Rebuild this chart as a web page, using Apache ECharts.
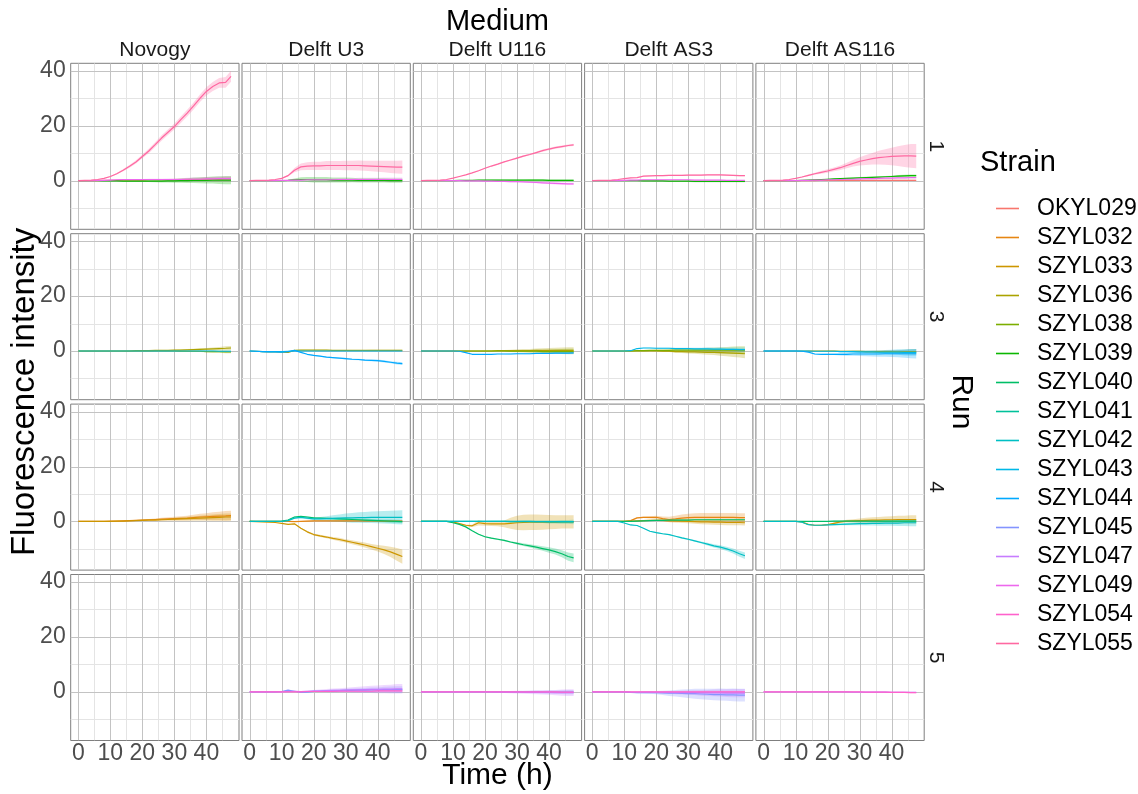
<!DOCTYPE html>
<html><head><meta charset="utf-8">
<script src="https://cdn.jsdelivr.net/npm/echarts@6/dist/echarts.min.js"></script>
<style>html,body{margin:0;padding:0;background:#fff}#c{width:1138px;height:794px}</style>
</head><body><div id="c"></div>
<script>
// ---------------- data ----------------
const TIME = [0,2,4,6,8,10,12,14,16,18,20,22,24,26,28,30,32,34,36,38,40,42,44,46,47.7];
const MEDIA = ['Novogy','Delft U3','Delft U116','Delft AS3','Delft AS116'];
const RUNS = ['1','3','4','5'];
const STRAINS = ['OKYL029','SZYL032','SZYL033','SZYL036','SZYL038','SZYL039','SZYL040','SZYL041','SZYL042','SZYL043','SZYL044','SZYL045','SZYL047','SZYL049','SZYL054','SZYL055'];
const STRAIN_COLORS = ['#F8766D','#E68613','#CD9600','#ABA300','#7CAE00','#0CB702','#00BE67','#00C19A','#00BFC4','#00B8E7','#00A9FF','#8494FF','#C77CFF','#ED68ED','#FF61CC','#FF68A1'];
const X_TICKS = [0,10,20,30,40];
const X_MINOR = [5,15,25,35,45];
const Y_TICKS = [0,20,40];
const Y_MINOR = [-10,10,30];
const X_LIMITS = [-2.39, 50.19];
const Y_LIMITS = [-17.75, 42.75];

// Run 1
const r1a_055 = [0,0.1,0.2,0.4,0.8,1.5,2.5,3.8,5.2,6.8,8.8,10.8,13.1,15.5,17.6,19.7,22.2,24.6,27.2,30.0,32.5,34.3,35.6,35.8,38.0];
const r1a_055_sd = [0,0,0,0.1,0.1,0.2,0.3,0.4,0.5,0.6,0.7,0.8,0.9,1.0,1.0,1.1,1.2,1.2,1.3,1.4,1.5,1.6,1.8,2.0,2.0];
const r1a_039 = [0,0,0,0,-0.1,-0.1,-0.1,-0.2,-0.2,-0.2,-0.2,-0.2,-0.2,-0.2,-0.1,-0.1,0,0,0.1,0.1,0.1,0.2,0.2,0.2,0.2];
const r1a_039_sd = [0,0,0,0,0,0.1,0.1,0.1,0.2,0.2,0.3,0.3,0.4,0.5,0.6,0.7,0.8,0.9,1.0,1.1,1.2,1.3,1.4,1.5,1.5];
const r1a_049 = [0,0,0,0.1,0.1,0.2,0.3,0.4,0.4,0.4,0.4,0.4,0.4,0.4,0.4,0.4,0.4,0.5,0.5,0.5,0.6,0.6,0.7,0.7,0.7];
const r1a_049_sd = [0,0,0,0,0,0.1,0.1,0.1,0.2,0.2,0.2,0.3,0.3,0.3,0.4,0.4,0.5,0.5,0.6,0.6,0.7,0.7,0.8,0.8,0.8];
const r1a_029 = [0,0,0,0,0.1,0.1,0.1,0.2,0.2,0.2,0.2,0.3,0.3,0.3,0.3,0.3,0.4,0.4,0.4,0.4,0.5,0.5,0.5,0.6,0.6];
const r1a_029_sd = [0,0,0,0,0,0.1,0.1,0.1,0.1,0.2,0.2,0.2,0.3,0.3,0.3,0.4,0.4,0.5,0.5,0.6,0.6,0.7,0.7,0.8,0.8];

const r1b_055 = [0,0.05,0.1,0.2,0.4,0.8,1.8,3.8,5.0,5.3,5.4,5.4,5.5,5.5,5.5,5.5,5.5,5.5,5.4,5.3,5.2,5.1,5.0,4.9,4.9];
const r1b_055_sd = [0,0,0,0,0,0.1,0.3,0.8,1.2,1.4,1.5,1.5,1.6,1.6,1.6,1.7,1.7,1.8,1.8,1.9,2.0,2.1,2.2,2.3,2.4];
const r1b_039 = [0,0,0,0,0,0,0.1,0.3,0.4,0.4,0.3,0.3,0.3,0.2,0.2,0.2,0.2,0.1,0.1,0.1,0.1,0.1,0,0,0];
const r1b_039_sd = [0,0,0,0,0,0,0.2,0.5,0.8,0.9,1.0,1.0,1.0,0.9,0.9,0.9,0.8,0.8,0.8,0.8,0.8,0.8,0.8,0.8,0.8];
const r1b_049 = [0,0,0,0,0,0.1,0.1,0.2,0.2,0.3,0.3,0.3,0.3,0.3,0.4,0.4,0.4,0.4,0.4,0.4,0.4,0.4,0.4,0.4,0.4];
const r1b_049_sd = [0,0,0,0,0,0,0.1,0.2,0.3,0.3,0.4,0.4,0.4,0.5,0.5,0.5,0.5,0.6,0.6,0.6,0.6,0.7,0.7,0.7,0.7];

const r1c_055 = [0,0.05,0.1,0.2,0.4,0.9,1.5,2.1,2.8,3.6,4.5,5.3,6.0,6.8,7.5,8.2,8.9,9.5,10.2,10.9,11.5,12.0,12.4,12.8,13.0];
const r1c_055_sd = [0,0,0,0,0,0.1,0.1,0.1,0.1,0.2,0.2,0.2,0.2,0.2,0.3,0.3,0.3,0.3,0.3,0.4,0.4,0.4,0.4,0.4,0.4];
const r1c_039 = [0,0,0,0,0,0,0.1,0.1,0.1,0.2,0.2,0.2,0.2,0.2,0.2,0.2,0.2,0.2,0.2,0.2,0.1,0.1,0.1,0.1,0.1];
const r1c_039_sd = [0,0,0,0,0,0,0.1,0.1,0.1,0.1,0.1,0.2,0.2,0.2,0.2,0.2,0.2,0.3,0.3,0.3,0.3,0.3,0.3,0.3,0.3];
const r1c_049 = [0,0,0,0,0,0,0,-0.1,-0.1,-0.1,-0.2,-0.2,-0.3,-0.3,-0.4,-0.4,-0.5,-0.6,-0.7,-0.8,-0.9,-1.0,-1.1,-1.2,-1.2];
const r1c_049_sd = [0,0,0,0,0,0,0,0.1,0.1,0.1,0.1,0.1,0.2,0.2,0.2,0.2,0.2,0.3,0.3,0.3,0.3,0.4,0.4,0.4,0.4];

const r1d_055 = [0,0.05,0.1,0.2,0.4,0.7,1.0,1.1,1.6,1.7,1.8,1.8,1.9,1.9,1.9,2.0,2.0,2.0,2.1,2.1,2.1,2.0,1.9,1.8,1.8];
const r1d_055_sd = [0,0,0,0,0,0.1,0.1,0.1,0.2,0.2,0.2,0.2,0.2,0.2,0.2,0.2,0.2,0.2,0.2,0.2,0.2,0.2,0.2,0.2,0.2];
const r1d_039 = [0,0,0,0,0,0,0,0,-0.1,-0.1,-0.1,-0.1,-0.2,-0.2,-0.2,-0.2,-0.3,-0.3,-0.3,-0.3,-0.3,-0.3,-0.3,-0.3,-0.3];
const r1d_039_sd = [0,0,0,0,0,0,0.1,0.1,0.1,0.1,0.2,0.2,0.2,0.2,0.2,0.3,0.3,0.3,0.3,0.3,0.3,0.3,0.3,0.3,0.3];
const r1d_049 = [0,0,0,0,0,0.1,0.2,0.2,0.3,0.3,0.3,0.3,0.3,0.3,0.3,0.3,0.2,0.2,0.2,0.2,0.2,0.1,0.1,0.1,0.1];
const r1d_049_sd = [0,0,0,0,0,0,0.1,0.1,0.1,0.1,0.1,0.1,0.1,0.1,0.1,0.1,0.1,0.1,0.1,0.1,0.1,0.1,0.1,0.1,0.1];

const r1e_055 = [0,0.05,0.1,0.2,0.4,0.8,1.3,1.9,2.5,3.0,3.5,4.1,4.7,5.5,6.3,7.0,7.5,8.0,8.4,8.6,8.8,8.9,9.0,9.0,8.9];
const r1e_055_sd = [0,0,0,0,0.1,0.1,0.2,0.3,0.4,0.5,0.6,0.7,0.8,1.0,1.2,1.5,1.8,2.1,2.5,2.8,3.2,3.6,4.0,4.3,4.4];
const r1e_039 = [0,0,0,0,0,0,0.1,0.2,0.3,0.4,0.5,0.6,0.7,0.8,0.9,1.0,1.1,1.2,1.3,1.4,1.5,1.6,1.7,1.8,1.8];
const r1e_039_sd = [0,0,0,0,0,0,0.1,0.1,0.1,0.1,0.2,0.2,0.2,0.2,0.2,0.3,0.3,0.3,0.3,0.3,0.3,0.4,0.4,0.4,0.4];
const r1e_049 = [0,0,0,0,0,0,0.1,0.1,0.2,0.2,0.3,0.3,0.4,0.5,0.5,0.6,0.7,0.7,0.8,0.9,0.9,1.0,1.0,1.1,1.1];
const r1e_049_sd = [0,0,0,0,0,0,0.1,0.1,0.1,0.1,0.1,0.2,0.2,0.2,0.2,0.2,0.2,0.2,0.2,0.2,0.2,0.2,0.2,0.2,0.2];
const r1e_029 = [0,0,0,0,0,0,0,0,0,0.1,0.1,0.1,0.1,0.1,0.1,0.1,0.1,0.1,0.1,0.1,0.1,0.1,0.1,0.1,0.1];
const r1e_029_sd = [0,0,0,0,0,0,0,0.1,0.1,0.1,0.1,0.1,0.1,0.2,0.2,0.2,0.2,0.2,0.2,0.2,0.2,0.2,0.2,0.2,0.2];

// Run 3
const r3a_036 = [0,0,0,0,0,0,0,0,0,0.1,0.1,0.1,0.2,0.2,0.2,0.3,0.3,0.4,0.5,0.6,0.7,0.8,0.9,1.0,1.1];
const r3a_036_sd = [0,0,0,0,0,0,0,0.1,0.1,0.1,0.1,0.1,0.2,0.2,0.2,0.2,0.3,0.3,0.3,0.4,0.4,0.5,0.6,0.7,0.7];
const r3a_043 = [0,0,0,0,0,0,0,0,0,0,0,0,0,0,0,0,0,0,0,0,0,0,-0.1,-0.1,-0.1];
const r3a_043_sd = [0,0,0,0,0,0,0,0,0,0,0.1,0.1,0.1,0.1,0.1,0.1,0.1,0.1,0.1,0.2,0.2,0.2,0.2,0.2,0.2];
const r3a_038 = [0,0,0,0,0,0,0,0,0,0,0,0,0,0,0,0,-0.1,-0.1,-0.1,-0.1,-0.2,-0.2,-0.2,-0.3,-0.3];
const r3a_038_sd = [0,0,0,0,0,0,0,0,0.1,0.1,0.1,0.1,0.1,0.1,0.2,0.2,0.2,0.2,0.3,0.3,0.3,0.4,0.4,0.5,0.5];

const r3b_044 = [0,-0.1,-0.2,-0.3,-0.3,-0.4,-0.2,0.2,-0.5,-1.2,-1.6,-1.9,-2.2,-2.4,-2.6,-2.8,-3.0,-3.1,-3.3,-3.4,-3.5,-3.8,-4.1,-4.4,-4.6];
const r3b_044_sd = [0,0,0,0,0,0,0.1,0.1,0.1,0.1,0.2,0.2,0.2,0.2,0.2,0.3,0.3,0.3,0.3,0.3,0.4,0.4,0.4,0.5,0.5];
const r3b_036 = [0,-0.1,-0.2,-0.3,-0.3,-0.4,-0.5,0.2,0.3,0.3,0.3,0.3,0.3,0.2,0.2,0.2,0.2,0.2,0.2,0.2,0.2,0.2,0.2,0.2,0.2];
const r3b_036_sd = [0,0,0,0,0,0.1,0.1,0.2,0.2,0.2,0.2,0.2,0.2,0.2,0.2,0.2,0.2,0.2,0.2,0.3,0.3,0.3,0.3,0.3,0.3];
const r3b_043 = [0,-0.1,-0.2,-0.2,-0.2,-0.2,-0.1,0,0,0,0,0,0,0,0,0,0,0,0,0,0,0,0,0,0];
const r3b_043_sd = [0,0,0,0,0,0,0.1,0.1,0.1,0.1,0.1,0.1,0.1,0.1,0.1,0.1,0.1,0.1,0.1,0.1,0.1,0.1,0.1,0.1,0.1];

const r3c_044 = [0,0,0,0,0,0,-0.1,-0.6,-1.2,-1.2,-1.2,-1.2,-1.1,-1.1,-1.1,-1.0,-1.0,-1.0,-0.9,-0.9,-0.9,-0.8,-0.8,-0.8,-0.7];
const r3c_044_sd = [0,0,0,0,0,0,0.1,0.1,0.1,0.1,0.1,0.1,0.1,0.1,0.2,0.2,0.2,0.2,0.2,0.2,0.2,0.3,0.3,0.3,0.3];
const r3c_036 = [0,0,0,0,0,0,0,0,0,0,0,0,0.1,0.1,0.1,0.1,0.1,0.1,0.2,0.2,0.2,0.2,0.2,0.2,0.2];
const r3c_036_sd = [0,0,0,0,0,0,0,0.1,0.1,0.1,0.2,0.2,0.3,0.3,0.4,0.5,0.6,0.6,0.7,0.8,0.9,1.0,1.1,1.2,1.2];
const r3c_038 = [0,0,0,0,0,0,0,0,0,0,0,0,0,0,-0.1,-0.1,-0.1,-0.1,-0.1,-0.2,-0.2,-0.2,-0.2,-0.2,-0.2];
const r3c_038_sd = [0,0,0,0,0,0,0,0.1,0.1,0.1,0.1,0.2,0.2,0.3,0.3,0.4,0.4,0.5,0.6,0.6,0.7,0.8,0.9,1.0,1.0];

const r3d_043 = [0,0,0,0,0,0,0.1,0.9,1.1,1.1,1.0,1.0,1.0,0.9,0.9,0.9,0.8,0.8,0.8,0.7,0.7,0.6,0.6,0.5,0.5];
const r3d_043_sd = [0,0,0,0,0,0,0.1,0.1,0.1,0.1,0.2,0.2,0.2,0.3,0.3,0.3,0.4,0.4,0.5,0.5,0.6,0.6,0.7,0.8,0.8];
const r3d_036 = [0,0,0,0,0,0,0,0,0,0,0,-0.1,-0.1,-0.2,-0.2,-0.3,-0.3,-0.4,-0.5,-0.5,-0.6,-0.7,-0.8,-0.9,-1.0];
const r3d_036_sd = [0,0,0,0,0,0,0.1,0.1,0.1,0.2,0.2,0.3,0.3,0.4,0.5,0.6,0.7,0.8,0.9,1.0,1.1,1.2,1.4,1.5,1.6];
const r3d_038 = [0,0,0,0,0,0,0,0.1,0.1,0.2,0.2,0.2,0.2,0.3,0.3,0.3,0.3,0.3,0.3,0.3,0.3,0.3,0.3,0.3,0.3];
const r3d_038_sd = [0,0,0,0,0,0,0.1,0.1,0.2,0.2,0.3,0.3,0.4,0.4,0.5,0.6,0.7,0.8,0.9,1.0,1.1,1.2,1.3,1.4,1.4];

const r3e_044 = [0,0,0,0,0,0,-0.1,-0.4,-1.1,-1.2,-1.2,-1.2,-1.2,-1.2,-1.1,-1.1,-1.1,-1.1,-1.1,-1.0,-1.0,-1.0,-1.0,-1.0,-1.0];
const r3e_044_sd = [0,0,0,0,0,0,0.1,0.1,0.2,0.2,0.3,0.3,0.4,0.5,0.6,0.7,0.8,0.9,1.0,1.1,1.2,1.3,1.5,1.6,1.7];
const r3e_036 = [0,0,0,0,0,0,0,0,0,0,0,0,-0.1,-0.1,-0.1,-0.1,-0.2,-0.2,-0.2,-0.2,-0.2,-0.3,-0.3,-0.3,-0.3];
const r3e_036_sd = [0,0,0,0,0,0,0,0.1,0.1,0.1,0.1,0.2,0.2,0.2,0.3,0.3,0.4,0.4,0.5,0.6,0.6,0.7,0.8,0.9,1.0];
const r3e_043 = [0,0,0,0,0,0,0,0,-0.1,-0.1,-0.1,-0.1,-0.2,-0.2,-0.2,-0.3,-0.3,-0.3,-0.4,-0.4,-0.4,-0.4,-0.5,-0.5,-0.5];
const r3e_043_sd = [0,0,0,0,0,0,0,0.1,0.1,0.1,0.2,0.2,0.3,0.3,0.4,0.5,0.5,0.6,0.7,0.8,0.9,1.0,1.1,1.2,1.2];

// Run 4
const r4a_032 = [0,0,0,0,0,0.1,0.1,0.2,0.3,0.4,0.5,0.6,0.7,0.8,0.9,1.0,1.1,1.2,1.4,1.6,1.7,1.8,1.9,2.0,2.1];
const r4a_032_sd = [0,0,0,0,0,0,0.1,0.1,0.1,0.2,0.3,0.3,0.4,0.5,0.6,0.7,0.8,0.9,1.0,1.2,1.3,1.5,1.6,1.8,1.8];
const r4a_033 = [0,0,0,0,0,0,0.1,0.1,0.2,0.3,0.4,0.5,0.5,0.6,0.7,0.8,0.9,1.0,1.1,1.2,1.3,1.4,1.5,1.6,1.6];
const r4a_033_sd = [0,0,0,0,0,0,0,0.1,0.1,0.1,0.2,0.2,0.3,0.3,0.4,0.5,0.6,0.7,0.8,0.9,1.0,1.1,1.2,1.3,1.3];

const r4b_033 = [0,-0.1,-0.2,-0.3,-0.4,-0.7,-1.1,-0.9,-2.5,-3.8,-4.8,-5.3,-5.7,-6.2,-6.6,-7.1,-7.6,-8.1,-8.6,-9.2,-9.8,-10.4,-11.1,-12.0,-12.8];
const r4b_033_sd = [0,0,0,0,0,0,0.1,0.1,0.2,0.3,0.3,0.4,0.4,0.5,0.6,0.6,0.7,0.8,0.9,1.0,1.2,1.5,1.9,2.3,2.6];
const r4b_042 = [0,0,0,0,0,0,0.3,1.2,1.5,1.2,0.9,0.9,1.0,1.1,1.2,1.3,1.3,1.4,1.4,1.5,1.5,1.5,1.5,1.5,1.5];
const r4b_042_sd = [0,0,0,0,0,0,0.1,0.2,0.3,0.4,0.5,0.7,0.9,1.1,1.3,1.6,1.8,1.9,2.0,2.1,2.2,2.3,2.4,2.5,2.6];
const r4b_040 = [0,0,0,0,0,0.1,0.5,1.6,1.8,1.6,1.3,1.2,1.1,1.0,0.9,0.8,0.7,0.6,0.5,0.4,0.3,0.2,0.1,0,-0.1];
const r4b_040_sd = [0,0,0,0,0,0,0.1,0.2,0.2,0.2,0.3,0.3,0.3,0.3,0.4,0.4,0.4,0.4,0.5,0.5,0.5,0.5,0.6,0.6,0.6];
const r4b_032 = [0,0,0,0,0,0,0,-0.1,0,0.1,0.2,0.2,0.2,0.2,0.2,0.2,0.2,0.2,0.2,0.2,0.2,0.1,0.1,0.1,0.1];
const r4b_032_sd = [0,0,0,0,0,0,0.1,0.1,0.1,0.2,0.2,0.2,0.2,0.2,0.3,0.3,0.3,0.3,0.3,0.3,0.3,0.3,0.3,0.3,0.3];

const r4c_040 = [0,0,0,0,0,-0.5,-1.1,-2.0,-3.4,-4.7,-5.6,-6.1,-6.5,-6.9,-7.5,-8.0,-8.5,-8.9,-9.4,-9.9,-10.4,-11.0,-11.8,-12.8,-13.3];
const r4c_040_sd = [0,0,0,0,0,0,0.1,0.1,0.1,0.2,0.2,0.2,0.3,0.3,0.3,0.4,0.5,0.6,0.7,0.8,1.0,1.1,1.3,1.5,1.6];
const r4c_033 = [0,0,0,0,0,-0.2,-0.8,-1.4,-1.6,-0.5,-0.8,-0.9,-0.9,-0.9,-0.7,-0.5,-0.4,-0.3,-0.3,-0.3,-0.3,-0.3,-0.2,-0.2,-0.2];
const r4c_033_sd = [0,0,0,0,0,0.1,0.2,0.3,0.4,1.0,0.8,0.8,0.9,1.2,2.0,2.6,2.8,2.8,2.8,2.7,2.6,2.5,2.4,2.4,2.4];
const r4c_042 = [0,0,0,0,0,0,0,0,0,0,0,0,0,0,0,0,0,0,-0.1,-0.1,-0.1,-0.1,-0.1,-0.1,-0.1];
const r4c_042_sd = [0,0,0,0,0,0,0,0.1,0.1,0.1,0.1,0.1,0.1,0.1,0.1,0.1,0.2,0.2,0.2,0.2,0.2,0.2,0.2,0.2,0.2];
const r4c_041 = [0,0,0,0,0,0,0,0,0,0,0,0,0,0,-0.1,-0.1,-0.1,-0.1,-0.1,-0.1,-0.2,-0.2,-0.2,-0.2,-0.2];
const r4c_041_sd = [0,0,0,0,0,0,0,0.1,0.1,0.1,0.1,0.2,0.2,0.2,0.3,0.3,0.4,0.4,0.5,0.5,0.6,0.6,0.7,0.7,0.8];

const r4d_042 = [0,0,0,0,0,-0.6,-1.3,-1.5,-2.5,-3.6,-4.1,-4.5,-4.8,-5.4,-6.0,-6.5,-7.1,-7.7,-8.3,-8.9,-9.4,-10.0,-10.8,-11.8,-12.5];
const r4d_042_sd = [0,0,0,0,0,0,0.1,0.1,0.1,0.1,0.2,0.2,0.2,0.2,0.3,0.3,0.3,0.4,0.5,0.6,0.7,0.8,0.9,1.1,1.2];
const r4d_032 = [0,0,0,0,0,0,0.3,1.3,1.5,1.5,1.5,1.0,0.7,0.9,1.2,1.4,1.5,1.5,1.5,1.5,1.5,1.5,1.5,1.4,1.4];
const r4d_032_sd = [0,0,0,0,0,0,0.1,0.2,0.3,0.4,0.6,0.8,1.0,1.2,1.3,1.4,1.5,1.6,1.6,1.6,1.6,1.6,1.6,1.6,1.6];
const r4d_033 = [0,0,0,0,0,0,0.1,0.2,0.3,0.4,0.4,0.4,0.3,0.2,0.1,0,-0.1,-0.2,-0.2,-0.3,-0.3,-0.4,-0.4,-0.4,-0.5];
const r4d_033_sd = [0,0,0,0,0,0,0.1,0.1,0.2,0.2,0.3,0.4,0.5,0.6,0.7,0.7,0.8,0.8,0.9,0.9,1.0,1.0,1.0,1.0,1.0];
const r4d_040 = [0,0,0,0,0,0,0,0.1,0.2,0.3,0.4,0.4,0.5,0.5,0.5,0.5,0.6,0.6,0.6,0.6,0.6,0.6,0.6,0.6,0.6];
const r4d_040_sd = [0,0,0,0,0,0,0.1,0.1,0.1,0.1,0.1,0.1,0.2,0.2,0.2,0.2,0.2,0.2,0.2,0.2,0.2,0.2,0.2,0.2,0.2];

const r4e_033 = [0,0,0,0,0,0,-0.2,-1.1,-1.4,-1.4,-1.2,-0.7,-0.2,0.1,0.2,0.3,0.4,0.5,0.5,0.6,0.6,0.7,0.7,0.7,0.7];
const r4e_033_sd = [0,0,0,0,0,0,0.1,0.1,0.1,0.2,0.2,0.3,0.4,0.5,0.6,0.8,0.9,1.0,1.1,1.2,1.3,1.4,1.4,1.5,1.5];
const r4e_042 = [0,0,0,0,0,0,-0.3,-1.2,-1.4,-1.4,-1.3,-1.2,-1.1,-1.0,-0.9,-0.8,-0.8,-0.7,-0.7,-0.6,-0.6,-0.6,-0.5,-0.5,-0.5];
const r4e_042_sd = [0,0,0,0,0,0,0.1,0.1,0.1,0.2,0.2,0.3,0.3,0.4,0.5,0.6,0.7,0.8,0.9,1.0,1.0,1.1,1.2,1.3,1.3];
const r4e_040 = [0,0,0,0,0,0,0,0,0,0,0,0.1,0.1,0.1,0.1,0.1,0.1,0.1,0.1,0.1,0.1,0.1,0.1,0.1,0.1];
const r4e_040_sd = [0,0,0,0,0,0,0.1,0.1,0.1,0.1,0.1,0.2,0.2,0.2,0.2,0.2,0.3,0.3,0.3,0.3,0.3,0.3,0.3,0.3,0.3];

// Run 5
const r5b_047 = [0,0,0,0,0,0,0.1,0.2,0.1,0.2,0.3,0.3,0.4,0.5,0.5,0.6,0.7,0.7,0.8,0.9,0.9,1.0,1.0,1.1,1.1];
const r5b_047_sd = [0,0,0,0,0,0,0.1,0.2,0.2,0.3,0.4,0.5,0.6,0.7,0.8,0.9,1.0,1.1,1.2,1.3,1.4,1.5,1.6,1.7,1.7];
const r5b_045 = [0,0,0,0,0,0.1,0.6,0.2,-0.2,-0.1,0.1,0.2,0.3,0.3,0.4,0.5,0.5,0.6,0.6,0.7,0.7,0.8,0.8,0.8,0.8];
const r5b_045_sd = [0,0,0,0,0,0,0.1,0.1,0.2,0.2,0.3,0.3,0.4,0.5,0.5,0.6,0.7,0.7,0.8,0.9,0.9,1.0,1.1,1.2,1.2];
const r5b_054 = [0,0,0,0,0,0,0,0,0,0.1,0.1,0.1,0.1,0.1,0.2,0.2,0.2,0.2,0.2,0.2,0.3,0.3,0.3,0.3,0.3];
const r5b_054_sd = [0,0,0,0,0,0,0,0.1,0.1,0.1,0.1,0.1,0.1,0.2,0.2,0.2,0.2,0.2,0.2,0.3,0.3,0.3,0.3,0.3,0.3];

const r5c_047 = [0,0,0,0,0,0,0,0,0,0,0,0,-0.1,-0.1,-0.1,-0.1,-0.2,-0.2,-0.2,-0.2,-0.2,-0.3,-0.3,-0.3,-0.3];
const r5c_047_sd = [0,0,0,0,0,0,0,0.1,0.1,0.1,0.2,0.2,0.3,0.3,0.4,0.5,0.5,0.6,0.7,0.8,0.9,1.0,1.1,1.2,1.2];
const r5c_045 = [0,0,0,0,0,0,0,0,0,0,0,0,0,0,0,0,0,0,0,-0.1,-0.1,-0.1,-0.1,-0.1,-0.1];
const r5c_045_sd = [0,0,0,0,0,0,0,0.1,0.1,0.1,0.1,0.2,0.2,0.2,0.3,0.3,0.4,0.4,0.5,0.5,0.6,0.6,0.7,0.8,0.8];
const r5c_054 = [0,0,0,0,0,0,0,0,0,0,0,0,0,0,0,0,0,0,0,0,0,0,-0.1,-0.1,-0.1];
const r5c_054_sd = [0,0,0,0,0,0,0,0,0,0.1,0.1,0.1,0.1,0.1,0.1,0.1,0.1,0.1,0.1,0.2,0.2,0.2,0.2,0.2,0.2];

const r5d_045 = [0,0,0,0,0,0,-0.2,-0.3,-0.3,-0.3,-0.3,-0.4,-0.5,-0.5,-0.6,-0.7,-0.7,-0.8,-0.9,-1.0,-1.0,-1.1,-1.1,-1.2,-1.2];
const r5d_045_sd = [0,0,0,0,0,0,0.1,0.2,0.3,0.4,0.6,0.8,1.0,1.2,1.4,1.6,1.8,1.9,2.0,2.1,2.2,2.2,2.3,2.3,2.3];
const r5d_047 = [0,0,0,0,0,0,-0.1,-0.1,-0.1,-0.1,-0.2,-0.2,-0.2,-0.3,-0.3,-0.3,-0.3,-0.4,-0.4,-0.4,-0.4,-0.5,-0.5,-0.5,-0.5];
const r5d_047_sd = [0,0,0,0,0,0,0.1,0.1,0.2,0.2,0.3,0.4,0.5,0.6,0.7,0.8,0.9,1.0,1.1,1.2,1.3,1.4,1.5,1.5,1.5];
const r5d_054 = [0,0,0,0,0,0,0,0,0,0,0,0,0,0,0,0,0,0,0,0,0,0,0,0,0];
const r5d_054_sd = [0,0,0,0,0,0,0,0,0.1,0.1,0.1,0.1,0.1,0.1,0.2,0.2,0.2,0.2,0.2,0.2,0.3,0.3,0.3,0.3,0.3];

const r5e_047 = [0,0,0,0,0,0,0,0,0,0,0,0,0,0,-0.1,-0.1,-0.1,-0.1,-0.1,-0.1,-0.2,-0.2,-0.2,-0.2,-0.2];
const r5e_047_sd = [0,0,0,0,0,0,0,0,0.1,0.1,0.1,0.1,0.1,0.1,0.1,0.1,0.1,0.1,0.2,0.2,0.2,0.2,0.2,0.2,0.2];
const r5e_054 = [0,0,0,0,0,0,0,0,0,0,0,0,0,0,0,0,-0.1,-0.1,-0.1,-0.1,-0.2,-0.2,-0.2,-0.3,-0.3];
const r5e_054_sd = [0,0,0,0,0,0,0,0,0.1,0.1,0.1,0.1,0.1,0.1,0.1,0.1,0.1,0.2,0.2,0.2,0.2,0.2,0.2,0.2,0.2];

// panel contents, row-major (run x medium): [strain, mean, sd]
const PANELS = [
  [['OKYL029',r1a_029,r1a_029_sd],['SZYL039',r1a_039,r1a_039_sd],['SZYL049',r1a_049,r1a_049_sd],['SZYL055',r1a_055,r1a_055_sd]],
  [['SZYL039',r1b_039,r1b_039_sd],['SZYL049',r1b_049,r1b_049_sd],['SZYL055',r1b_055,r1b_055_sd]],
  [['SZYL039',r1c_039,r1c_039_sd],['SZYL049',r1c_049,r1c_049_sd],['SZYL055',r1c_055,r1c_055_sd]],
  [['SZYL039',r1d_039,r1d_039_sd],['SZYL049',r1d_049,r1d_049_sd],['SZYL055',r1d_055,r1d_055_sd]],
  [['OKYL029',r1e_029,r1e_029_sd],['SZYL039',r1e_039,r1e_039_sd],['SZYL049',r1e_049,r1e_049_sd],['SZYL055',r1e_055,r1e_055_sd]],
  [['SZYL036',r3a_036,r3a_036_sd],['SZYL038',r3a_038,r3a_038_sd],['SZYL043',r3a_043,r3a_043_sd]],
  [['SZYL036',r3b_036,r3b_036_sd],['SZYL043',r3b_043,r3b_043_sd],['SZYL044',r3b_044,r3b_044_sd]],
  [['SZYL036',r3c_036,r3c_036_sd],['SZYL038',r3c_038,r3c_038_sd],['SZYL044',r3c_044,r3c_044_sd]],
  [['SZYL036',r3d_036,r3d_036_sd],['SZYL038',r3d_038,r3d_038_sd],['SZYL043',r3d_043,r3d_043_sd]],
  [['SZYL036',r3e_036,r3e_036_sd],['SZYL043',r3e_043,r3e_043_sd],['SZYL044',r3e_044,r3e_044_sd]],
  [['SZYL032',r4a_032,r4a_032_sd],['SZYL033',r4a_033,r4a_033_sd]],
  [['SZYL032',r4b_032,r4b_032_sd],['SZYL033',r4b_033,r4b_033_sd],['SZYL040',r4b_040,r4b_040_sd],['SZYL042',r4b_042,r4b_042_sd]],
  [['SZYL033',r4c_033,r4c_033_sd],['SZYL040',r4c_040,r4c_040_sd],['SZYL041',r4c_041,r4c_041_sd],['SZYL042',r4c_042,r4c_042_sd]],
  [['SZYL032',r4d_032,r4d_032_sd],['SZYL033',r4d_033,r4d_033_sd],['SZYL040',r4d_040,r4d_040_sd],['SZYL042',r4d_042,r4d_042_sd]],
  [['SZYL033',r4e_033,r4e_033_sd],['SZYL040',r4e_040,r4e_040_sd],['SZYL042',r4e_042,r4e_042_sd]],
  [],
  [['SZYL045',r5b_045,r5b_045_sd],['SZYL047',r5b_047,r5b_047_sd],['SZYL054',r5b_054,r5b_054_sd]],
  [['SZYL045',r5c_045,r5c_045_sd],['SZYL047',r5c_047,r5c_047_sd],['SZYL054',r5c_054,r5c_054_sd]],
  [['SZYL045',r5d_045,r5d_045_sd],['SZYL047',r5d_047,r5d_047_sd],['SZYL054',r5d_054,r5d_054_sd]],
  [['SZYL047',r5e_047,r5e_047_sd],['SZYL054',r5e_054,r5e_054_sd]]
];

// ---------------- layout / style ----------------
const FONT = '"Liberation Sans", Arial, Helvetica, sans-serif';
const COL_LEFT = [70.7, 242.0, 413.3, 584.6, 755.9];
const ROW_TOP = [63.3, 233.7, 404.1, 574.5];
const PW = 168.3, PH = 166;
const colorOf = n => STRAIN_COLORS[STRAINS.indexOf(n)];
function rgba(hex, a){ const v = parseInt(hex.slice(1),16); return `rgba(${v>>16&255},${v>>8&255},${v&255},${a})`; }

const grids = [], xAxes = [], yAxes = [], series = [];

function gridSeries(gi){
  const data = [];
  X_MINOR.forEach(v => data.push([v, 0, 0]));
  Y_MINOR.forEach(v => data.push([0, v, 1]));
  X_TICKS.forEach(v => data.push([v, 0, 2]));
  Y_TICKS.forEach(v => data.push([0, v, 3]));
  return {
    type: 'custom', xAxisIndex: gi, yAxisIndex: gi, silent: true, z: 1, clip: true,
    encode: {x: 0, y: 1}, data,
    renderItem(params, api){
      const cs = params.coordSys, k = api.value(2);
      const p = api.coord([api.value(0), api.value(1)]);
      const style = {stroke: k >= 2 ? '#C3C3C3' : '#E4E4E4', lineWidth: 1};
      if (k === 0 || k === 2){ const x = Math.round(p[0]) + 0.5; return {type:'line', shape:{x1:x, y1:cs.y, x2:x, y2:cs.y+cs.height}, style}; }
      const y = Math.round(p[1]) + 0.5; return {type:'line', shape:{x1:cs.x, y1:y, x2:cs.x+cs.width, y2:y}, style};
    }
  };
}
function ribbonSeries(gi, cv){
  const [name, mean, sd] = cv; const col = colorOf(name);
  const rows = TIME.map((t, i) => [t, mean[i] - sd[i], mean[i] + sd[i]]);
  return {
    type: 'custom', name: name + ' band', xAxisIndex: gi, yAxisIndex: gi, silent: true, z: 2, clip: true,
    encode: {x: 0, y: [1, 2]}, data: rows,
    renderItem(params, api){
      if (params.dataIndex !== 0) return null;
      const top = rows.map(r => api.coord([r[0], r[2]]));
      const bot = rows.map(r => api.coord([r[0], r[1]])).reverse();
      return {type:'polygon', shape:{points: top.concat(bot)}, style:{fill: rgba(col, 0.28)}};
    }
  };
}
function lineSeries(gi, cv){
  const [name, mean] = cv; const col = colorOf(name);
  return {
    type: 'line', name, xAxisIndex: gi, yAxisIndex: gi, silent: true, z: 3,
    data: TIME.map((t, i) => [t, mean[i]]), showSymbol: false, symbol: 'none',
    lineStyle: {width: 1.2, color: col}, itemStyle: {color: col}
  };
}

RUNS.forEach((run, r) => MEDIA.forEach((med, c) => {
  const gi = r * 5 + c;
  grids.push({left: COL_LEFT[c], top: ROW_TOP[r], width: PW, height: PH, show: true,
    backgroundColor: '#FFFFFF', borderColor: '#7F7F7F', borderWidth: 1});
  xAxes.push({type: 'value', gridIndex: gi, min: X_LIMITS[0], max: X_LIMITS[1],
    axisLine: {show: false}, axisTick: {show: false}, splitLine: {show: false},
    axisLabel: {show: r === RUNS.length - 1, customValues: X_TICKS, fontSize: 23, color: '#4D4D4D', margin: 2, fontFamily: FONT}});
  yAxes.push({type: 'value', gridIndex: gi, min: Y_LIMITS[0], max: Y_LIMITS[1],
    axisLine: {show: false}, axisTick: {show: false}, splitLine: {show: false},
    axisLabel: {show: c === 0, customValues: Y_TICKS, fontSize: 23, color: '#4D4D4D', margin: 5, fontFamily: FONT}});
  series.push(gridSeries(gi));
  PANELS[gi].forEach(cv => series.push(ribbonSeries(gi, cv)));
  PANELS[gi].forEach(cv => series.push(lineSeries(gi, cv)));
}));

const midX = (COL_LEFT[0] + COL_LEFT[4] + PW) / 2;
const midY = (ROW_TOP[0] + ROW_TOP[3] + PH) / 2;
function txt(text, x, y, size, opts){
  return Object.assign({type: 'text', x, y, silent: true,
    style: {text, font: `${size}px ${FONT}`, fill: (opts && opts.fill) || '#000',
      textAlign: (opts && opts.align) || 'center', textVerticalAlign: 'middle'}},
    opts && opts.rotation !== undefined ? {rotation: opts.rotation} : {});
}
const graphic = [
  txt('Medium', midX, 22, 29),
  txt('Time (h)', midX, 776, 30),
  txt('Fluorescence intensity', 25, midY - 10, 33, {rotation: Math.PI / 2}),
  txt('Run', 961, midY, 30, {rotation: -Math.PI / 2}),
  txt('Strain', 980, 163, 29, {align: 'left'})
];
MEDIA.forEach((m, c) => graphic.push(txt(m, COL_LEFT[c] + PW / 2, 50, 21, {fill: '#1A1A1A'})));
RUNS.forEach((rn, r) => graphic.push(txt(rn, 936, ROW_TOP[r] + PH / 2, 21, {fill: '#1A1A1A', rotation: -Math.PI / 2})));

const chart = echarts.init(document.getElementById('c'), null, {renderer: 'canvas'});
chart.setOption({
  animation: false,
  backgroundColor: '#FFFFFF',
  grid: grids, xAxis: xAxes, yAxis: yAxes, series,
  legend: {data: STRAINS, orient: 'vertical', left: 996, top: 194, icon: 'rect', itemWidth: 23, itemHeight: 1.6,
    itemGap: 0, padding: 0, selectedMode: false,
    textStyle: {fontSize: 23, lineHeight: 29, color: '#000', fontFamily: FONT, padding: [0, 0, 0, 13]}},
  graphic
});
</script></body></html>
